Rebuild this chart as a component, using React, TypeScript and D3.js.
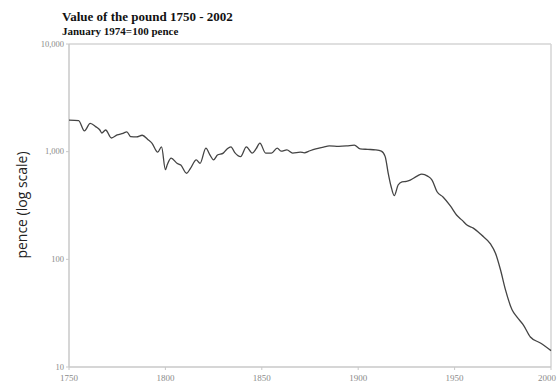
import React from 'react';
import * as d3 from 'd3';

// value of the pound, pence (Jan 1974 = 100)
const years = [
  1750, 1755, 1758, 1761, 1764, 1766, 1767, 1769, 1772, 1775, 1778, 1780, 1782, 1785, 1788, 1791,
  1793, 1796, 1798, 1800, 1801, 1803, 1806, 1808, 1811, 1813, 1816, 1818, 1821, 1823, 1825,
  1827, 1830, 1832, 1834, 1836, 1839, 1842, 1845, 1847, 1849, 1852, 1855, 1858, 1860, 1863,
  1866, 1870, 1872, 1875, 1878, 1882, 1885, 1890, 1894, 1898, 1901, 1905, 1909, 1912, 1914,
  1915.5, 1917, 1918.7, 1920.7, 1922.7, 1925, 1927, 1930.5, 1933, 1936, 1938.3, 1940.9, 1944,
  1947.8, 1951, 1954, 1956.4, 1959.7, 1964, 1968.6, 1971.2, 1973.8, 1976.4, 1979.8, 1982.4,
  1985.7, 1989.3, 1994.5, 2000,
];
const pence = [
  1960, 1940, 1560, 1830, 1700, 1590, 1490, 1590, 1340, 1430, 1480, 1530, 1380, 1370, 1420, 1290,
  1200, 990, 1110, 680, 760, 870, 780, 750, 630, 700, 840, 780, 1080, 940, 840,
  930, 970, 1060, 1110, 980, 900, 1110, 970, 1060, 1200, 970, 970, 1080, 1010, 1040,
  970, 990, 975, 1020, 1060, 1100, 1130, 1120, 1130, 1150, 1060, 1050, 1040, 1013, 900,
  640, 480, 390, 490, 525, 530, 545, 593, 619, 593, 545, 424, 379,
  313, 258, 230, 208, 195, 168, 139, 114, 80, 52, 34, 29,
  24.5, 19, 16.7, 14.2,
];

const yTicks = [10, 100, 1000, 10000];
const xTicks = [1750, 1800, 1850, 1900, 1950, 2000];

const W = 557;
const H = 386;
const left = 69;
const right = 551;
const top = 44;
const bottom = 367;

export default function App() {
  const x = d3.scaleLinear().domain([1750, 2000]).range([left, right]);
  const y = d3.scaleLog().domain([10, 10000]).range([bottom, top]);
  const pts: [number, number][] = years.map((yr, i) => [yr, pence[i]]);
  const line = d3.line<[number, number]>()
    .x(d => x(d[0]))
    .y(d => y(d[1]))
    .curve(d3.curveMonotoneX);
  const fmt = d3.format(',');

  return (
    <svg width={W} height={H} style={{ position: 'absolute', left: 0, top: 0, background: '#fff' }}>
      <text x={62} y={21} fontFamily="Liberation Serif, serif" fontWeight="bold" fontSize={13} fill="#111">
        Value of the pound 1750 - 2002
      </text>
      <text x={62} y={35} fontFamily="Liberation Serif, serif" fontWeight="bold" fontSize={11} fill="#111">
        January 1974=100 pence
      </text>

      {/* frame */}
      <line x1={left} x2={right} y1={top} y2={top} stroke="#d4d4d4" strokeWidth={1.5} />
      <line x1={right} x2={right} y1={top} y2={bottom} stroke="#d4d4d4" strokeWidth={1.5} />
      <line x1={left} x2={left} y1={top} y2={bottom} stroke="#c8c8c8" strokeWidth={1.5} />
      <line x1={left} x2={right} y1={bottom} y2={bottom} stroke="#c8c8c8" strokeWidth={1.5} />

      {yTicks.map(t => (
        <g key={t}>
          <line x1={left - 3} x2={left} y1={y(t)} y2={y(t)} stroke="#c8c8c8" />
          <text x={left - 5} y={y(t)} dy="0.3em" textAnchor="end" fontFamily="Liberation Serif, serif"
            fontSize={8.5} fill="#8a8a8a">{fmt(t)}</text>
        </g>
      ))}
      {xTicks.map((t, i) => (
        <g key={t}>
          <line x1={x(t)} x2={x(t)} y1={bottom} y2={bottom + 3} stroke="#c8c8c8" />
          <text x={i === xTicks.length - 1 ? W - 1 : x(t)} y={bottom + 14}
            textAnchor={i === xTicks.length - 1 ? 'end' : 'middle'} fontFamily="Liberation Serif, serif"
            fontSize={9} fill="#8a8a8a">{t}</text>
        </g>
      ))}

      <text transform="translate(27,205) rotate(-90)" textAnchor="middle"
        fontFamily="Open Sans, sans-serif" fontSize={14} fill="#222">pence (log scale)</text>

      <path d={line(pts) || ''} fill="none" stroke="#444" strokeWidth={1.3} strokeLinejoin="round" />
    </svg>
  );
}
